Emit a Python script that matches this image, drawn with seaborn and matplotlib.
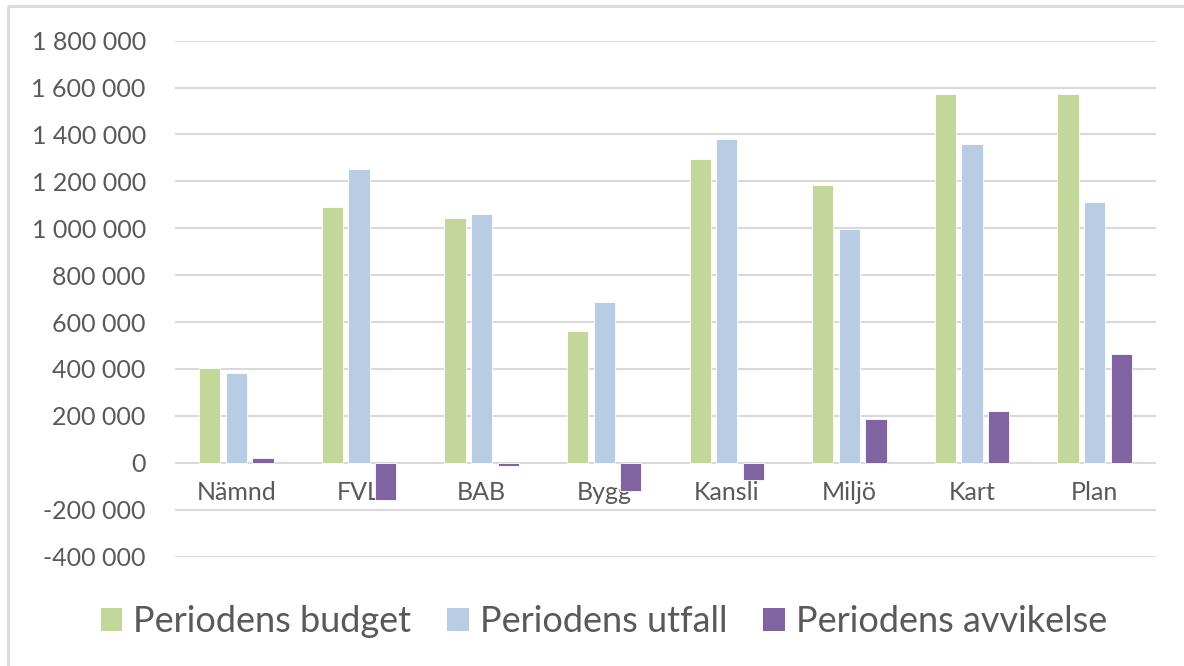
import matplotlib
matplotlib.use("Agg")
import matplotlib.pyplot as plt
from matplotlib.lines import Line2D
from matplotlib.patches import Patch
import matplotlib.ticker as mticker
import pandas as pd
import seaborn as sns

categories = ["Nämnd", "FVL", "BAB", "Bygg", "Kansli", "Miljö", "Kart", "Plan"]
budget = [402000, 1089000, 1045000, 563000, 1296000, 1183000, 1573000, 1573000]
utfall = [384000, 1252000, 1059000, 685000, 1379000, 996000, 1359000, 1113000]
avvikelse = [18000, -159000, -13000, -121000, -75000, 188000, 219000, 465000]
series = ["Periodens budget", "Periodens utfall", "Periodens avvikelse"]
colors = ["#C4D79B", "#B8CCE4", "#8064A2"]
yticks = list(range(-400000, 1800001, 200000))

df = pd.DataFrame({
    "kategori": categories * 3,
    "serie": [series[0]] * 8 + [series[1]] * 8 + [series[2]] * 8,
    "varde": budget + utfall + avvikelse,
})

sns.set_style("white")
plt.rcParams["font.family"] = ["Lato", "DejaVu Sans"]
text_color = "#595959"

fig = plt.figure(figsize=(11.84, 6.66), dpi=100)
ax = fig.add_axes([175 / 1184, 1 - 556.5 / 666, (1156 - 175) / 1184, (556.5 - 40.6) / 666])

sns.barplot(data=df, x="kategori", y="varde", hue="serie", order=categories,
            hue_order=series, palette=colors, saturation=1, width=0.65, gap=0.2,
            edgecolor="white", linewidth=0.6, ax=ax, legend=False, zorder=3)

ax.set_ylim(-400000, 1800000)
ax.set_yticks(yticks)
ax.yaxis.set_major_formatter(mticker.FuncFormatter(lambda v, p: f"{int(v):,}".replace(",", " ")))
ax.grid(axis="y", color="#D9D9D9", linewidth=1.5, zorder=0)
ax.set_axisbelow(True)
for s in ax.spines.values():
    s.set_visible(False)
ax.spines["bottom"].set_position(("data", 0))
ax.set_xlabel("")
ax.set_ylabel("")
ax.tick_params(axis="y", length=0, pad=21, labelsize=18, labelcolor=text_color)
ax.tick_params(axis="x", length=0, pad=13, labelsize=18, labelcolor=text_color)

# legend at the bottom
handles = [Patch(facecolor=c, edgecolor="none") for c in colors]
fig.legend(handles, series, loc="center", bbox_to_anchor=(0.51, 1 - 622 / 666),
           ncol=3, frameon=False, fontsize=26, handlelength=0.6, handleheight=0.6,
           handletextpad=0.3, columnspacing=1.0, labelcolor=text_color)

# chart frame (only top and left edges are visible in the crop)
fig.add_artist(Line2D([8 / 1184, 8 / 1184, 1.0], [0.0, 1 - 6 / 666, 1 - 6 / 666],
                      transform=fig.transFigure, color="#D9D9D9", linewidth=2))

fig.savefig("out.png", dpi=100)
